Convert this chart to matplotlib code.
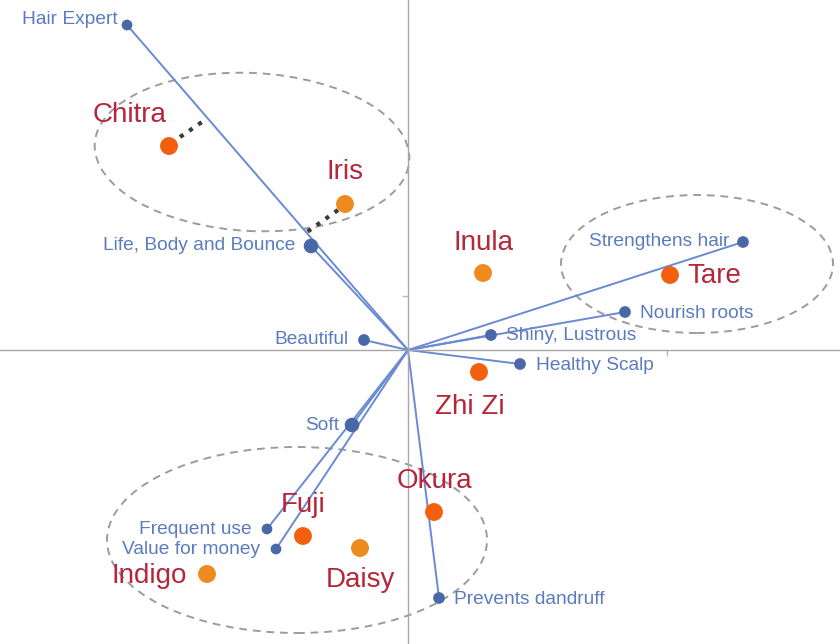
import matplotlib
matplotlib.use('agg')
import matplotlib.pyplot as plt
from matplotlib.patches import Ellipse

plt.rcParams['font.family'] = ['Liberation Sans', 'DejaVu Sans']

# attribute vectors (biplot loadings)
attr_names = ['Hair Expert', 'Life, Body and Bounce', 'Beautiful', 'Soft',
              'Frequent use', 'Value for money', 'Prevents dandruff',
              'Healthy Scalp', 'Shiny, Lustrous', 'Nourish roots',
              'Strengthens hair']
attr_x = [-2.81, -0.97, -0.44, -0.56, -1.41, -1.32, 0.31, 1.12, 0.83, 2.17, 3.35]
attr_y = [3.25, 1.04, 0.10, -0.75, -1.79, -1.99, -2.48, -0.14, 0.15, 0.38, 1.08]

# brands (scores)
brand_names = ['Chitra', 'Iris', 'Inula', 'Tare', 'Zhi Zi', 'Okura',
               'Fuji', 'Daisy', 'Indigo']
brand_x = [-2.39, -0.63, 0.75, 2.62, 0.71, 0.26, -1.05, -0.48, -2.01]
brand_y = [2.04, 1.46, 0.77, 0.75, -0.22, -1.62, -1.86, -1.98, -2.24]

fig = plt.figure(figsize=(8.4, 6.44), dpi=100)
ax = fig.add_axes([0, 0, 1, 1])
ax.set_xlim(-4.08, 4.32)
ax.set_ylim(-2.94, 3.50)

for s in ['top', 'right']:
    ax.spines[s].set_visible(False)
ax.spines['left'].set_position('zero')
ax.spines['bottom'].set_position('zero')
for s in ['left', 'bottom']:
    ax.spines[s].set_color('#a8a8a8')
    ax.spines[s].set_linewidth(1.0)
ax.set_xticks([2.59])
ax.set_yticks([0.54])
ax.set_xticklabels([])
ax.set_yticklabels([])
ax.tick_params(colors='#b8b8b8', length=4, width=1, direction='out')

# groupings
ell_style = dict(fill=False, edgecolor='#9c9c9c', linewidth=1.4, linestyle=(0, (4, 3)))
ax.add_patch(Ellipse((-1.56, 1.98), 3.15, 1.58, angle=-3, **ell_style))
ax.add_patch(Ellipse((2.89, 0.86), 2.72, 1.38, **ell_style))
ax.add_patch(Ellipse((-1.11, -1.90), 3.80, 1.86, **ell_style))

# vectors
for x, y in zip(attr_x, attr_y):
    ax.plot([0, x], [0, y], color='#6a8ad4', lw=1.4, zorder=2)
sizes = [45, 90, 55, 90, 45, 45, 55, 55, 55, 55, 55]
ax.scatter(attr_x, attr_y, s=sizes, color='#4a68a8', zorder=4)

# projection dotted lines
ax.plot([-2.28, -2.03], [2.13, 2.30], ls=':', color='#3a3a3a', lw=3, zorder=3)
ax.plot([-0.70, -1.01], [1.40, 1.18], ls=':', color='#3a3a3a', lw=3, zorder=3)

brand_cols = ['#f2600f', '#ee8a1e', '#ee8a1e', '#f2600f', '#f2600f',
              '#f2600f', '#f2600f', '#ee8a1e', '#ee8a1e']
ax.scatter(brand_x, brand_y, s=140, color=brand_cols, zorder=5)

attr_off = [(-9, 6, 'right'), (-16, 0, 'right'), (-15, 0, 'right'), (-13, 0, 'right'),
            (-15, 0, 'right'), (-16, 0, 'right'), (15, -1, 'left'), (16, -1, 'left'),
            (15, 0, 'left'), (15, -1, 'left'), (-14, 0, 'right')]
for n, x, y, (dx, dy, ha) in zip(attr_names, attr_x, attr_y, attr_off):
    ax.annotate(n, (x, y), xytext=(dx, dy), textcoords='offset pixels',
                ha=ha, va='center', fontsize=13.8, color='#5b7bc0', zorder=6)

brand_off = [(-39, 31, 'center'), (0, 32, 'center'), (0, 30, 'center'),
             (17, -1, 'left'), (-9, -35, 'center'), (0, 31, 'center'),
             (0, 31, 'center'), (0, -32, 'center'), (-20, -2, 'right')]
for n, x, y, (dx, dy, ha) in zip(brand_names, brand_x, brand_y, brand_off):
    ax.annotate(n, (x, y), xytext=(dx, dy), textcoords='offset pixels',
                ha=ha, va='center', fontsize=20, color='#b5263a', zorder=6)

fig.savefig('out.png', dpi=100)
